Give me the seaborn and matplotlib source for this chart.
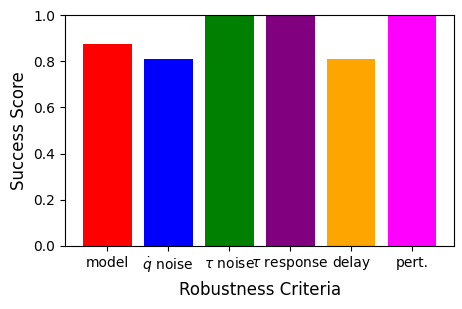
import matplotlib
matplotlib.use("Agg")
import matplotlib.pyplot as plt
import seaborn as sns
import pandas as pd

categories = ["model", r"$\dot{q}$ noise", r"$\tau$ noise", r"$\tau$ response", "delay", "pert."]
scores = [0.875, 0.81, 1.0, 1.0, 0.81, 1.0]
colors = ["red", "blue", "green", "purple", "orange", "magenta"]

df = pd.DataFrame({"crit": categories, "score": scores})

fig = plt.figure(figsize=(4.62, 3.09), dpi=100)
ax = fig.add_axes([0.141, 0.204, 0.842, 0.747])
sns.barplot(data=df, x="crit", y="score", hue="crit", palette=colors,
            saturation=1, legend=False, ax=ax, width=0.8)
ax.set_xlim(-0.69, 5.69)
ax.set_ylim(0, 1)
ax.set_xlabel("Robustness Criteria", fontsize=12)
ax.set_ylabel("Success Score", fontsize=12)
fig.savefig("out.png", dpi=100)
